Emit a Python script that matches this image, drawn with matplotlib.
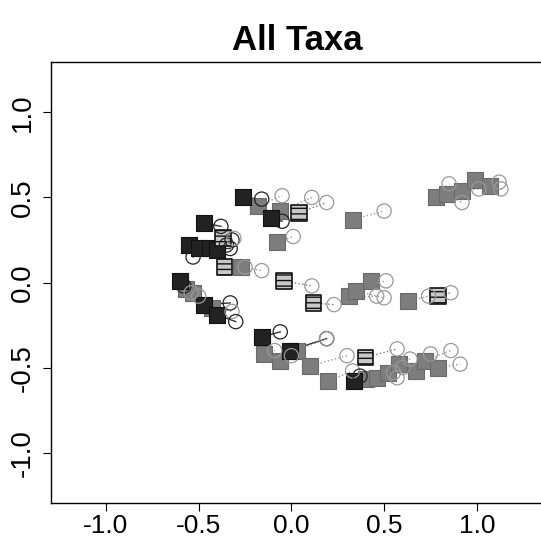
import matplotlib
matplotlib.use("Agg")
import matplotlib.pyplot as plt
import numpy as np

plt.rcParams['font.family'] = ['Liberation Sans', 'DejaVu Sans']

# square = first configuration, circle = second configuration
sq_x = [-0.26, -0.18, -0.06, -0.11, 0.04, -0.47,
        -0.55, -0.50, -0.44, -0.40, -0.37, -0.08, -0.36, -0.27,
        0.33, 0.78, 0.84, 0.92, 0.99, 1.07,
        -0.04, 0.12, 0.31, 0.35, 0.43, 0.63, 0.79,
        -0.60, -0.57, -0.53, -0.47, -0.43, -0.40,
        -0.16, -0.15, -0.06, -0.01, 0.03, 0.10, 0.20, 0.34, 0.40, 0.46, 0.52, 0.58,
        0.40, 0.67, 0.72, 0.79]
sq_y = [0.50, 0.45, 0.42, 0.38, 0.41, 0.35,
        0.22, 0.20, 0.20, 0.19, 0.26, 0.24, 0.09, 0.09,
        0.37, 0.50, 0.52, 0.54, 0.60, 0.57,
        0.01, -0.12, -0.08, -0.05, 0.01, -0.11, -0.08,
        0.01, -0.04, -0.06, -0.13, -0.15, -0.19,
        -0.32, -0.42, -0.46, -0.40, -0.40, -0.49, -0.58, -0.58, -0.57, -0.56, -0.53, -0.48,
        -0.44, -0.52, -0.46, -0.50]
ci_x = [-0.16, -0.05, 0.11, -0.05, 0.19, -0.38,
        -0.53, -0.33, -0.32, -0.35, -0.31, 0.01, -0.25, -0.16,
        0.50, 0.85, 0.92, 1.01, 1.12, 1.13,
        0.11, 0.23, 0.46, 0.50, 0.51, 0.74, 0.86,
        -0.58, -0.54, -0.50, -0.33, -0.32, -0.30,
        -0.06, -0.09, 0.00, 0.19, 0.19, 0.30, 0.33, 0.37, 0.57, 0.55, 0.60, 0.64,
        0.57, 0.75, 0.86, 0.91]
ci_y = [0.49, 0.51, 0.50, 0.36, 0.47, 0.33,
        0.15, 0.20, 0.25, 0.22, 0.26, 0.27, 0.09, 0.07,
        0.42, 0.58, 0.47, 0.55, 0.59, 0.55,
        -0.02, -0.13, -0.08, -0.09, 0.01, -0.08, -0.06,
        -0.02, -0.06, -0.08, -0.12, -0.17, -0.23,
        -0.29, -0.40, -0.43, -0.33, -0.33, -0.43, -0.52, -0.55, -0.56, -0.53, -0.50, -0.45,
        -0.39, -0.42, -0.40, -0.48]
shade = ['dark', 'gray', 'gray', 'dark', 'hatch', 'dark',
         'dark', 'dark', 'dark', 'dark', 'hatch', 'gray', 'hatch', 'gray',
         'gray', 'gray', 'gray', 'gray', 'gray', 'gray',
         'hatch', 'hatch', 'gray', 'gray', 'gray', 'gray', 'hatch',
         'dark', 'gray', 'gray', 'dark', 'gray', 'dark',
         'dark', 'gray', 'gray', 'dark', 'gray', 'gray', 'gray', 'dark', 'gray', 'gray', 'gray', 'gray',
         'hatch', 'gray', 'gray', 'gray']

fills = {'dark': '#222222', 'gray': '#7d7d7d', 'hatch': '#c8c8c8'}
edges = {'dark': '#111111', 'gray': '#6a6a6a', 'hatch': '#111111'}
links = {'dark': '#333333', 'gray': '#9a9a9a', 'hatch': '#777777'}

fig = plt.figure(figsize=(5.41, 5.40), dpi=100)
ax = fig.add_axes([51/541, 37/540, 493/541, 441/540])

for i in range(len(sq_x)):
    s = shade[i]
    ls = '-' if s == 'dark' else ':'
    ax.plot([sq_x[i], ci_x[i]], [sq_y[i], ci_y[i]], color=links[s], lw=1.0, ls=ls, zorder=1)

for s in ['gray', 'dark', 'hatch']:
    idx = [i for i in range(len(sq_x)) if shade[i] == s]
    xs = np.array(sq_x)[idx]
    ys = np.array(sq_y)[idx]
    if s == 'hatch':
        ax.scatter(xs, ys, marker='s', s=125, facecolor=fills[s], edgecolor=edges[s],
                   linewidths=1.2, hatch='---', zorder=2)
    else:
        ax.scatter(xs, ys, marker='s', s=125, facecolor=fills[s], edgecolor=edges[s],
                   linewidths=0.8, zorder=2)

ci_edge = ['#222222' if s == 'dark' else '#999999' for s in shade]
ax.scatter(ci_x, ci_y, marker='o', s=105, facecolor='none', edgecolor=ci_edge,
           linewidths=0.9, zorder=3)

ax.set_xlim(-1.296, 1.362)
ax.set_ylim(-1.296, 1.296)
ticks = [-1.0, -0.5, 0.0, 0.5, 1.0]
ax.set_xticks(ticks)
ax.set_yticks(ticks)
ax.set_xticklabels(['-1.0', '-0.5', '0.0', '0.5', '1.0'], fontsize=19)
ax.set_yticklabels(['-1.0', '-0.5', '0.0', '0.5', '1.0'], fontsize=20, rotation=90, va='center')
ax.tick_params(direction='out', length=6, width=0.8, pad=2)
ax.tick_params(axis='y', pad=5)
for sp in ax.spines.values():
    sp.set_linewidth(1.0)

ax.set_title('All Taxa', fontsize=25, fontweight='bold', pad=9)

fig.savefig('out.png', dpi=100)
